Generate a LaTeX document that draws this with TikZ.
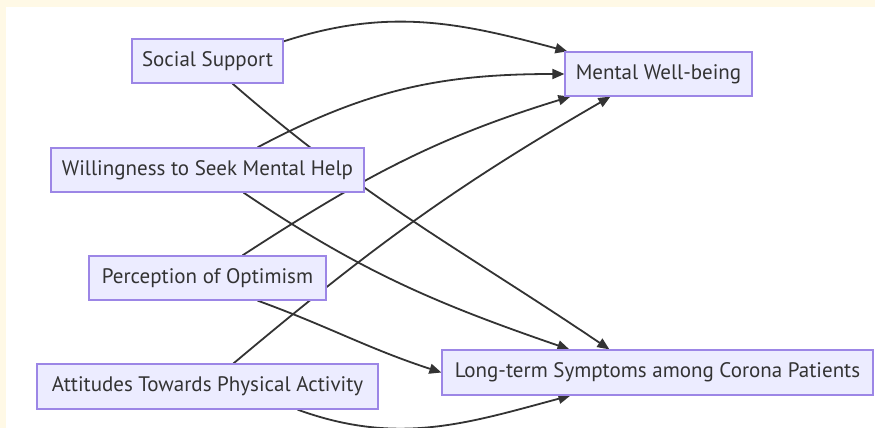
\documentclass[tikz,border=0pt]{standalone}
\usepackage{fontspec}
\setmainfont{PT Sans}
\usetikzlibrary{arrows.meta}
\definecolor{cream}{RGB}{255,249,230}
\definecolor{nodefill}{HTML}{ECECFF}
\definecolor{nodeborder}{HTML}{9C86E6}
\definecolor{edgec}{HTML}{333333}
\definecolor{textc}{HTML}{333333}
\pgfdeclarelayer{bg}
\pgfdeclarelayer{edges}
\pgfsetlayers{bg,edges,main}
\begin{document}
\begin{tikzpicture}[x=1pt,y=-1pt,
  box/.style={draw=nodeborder, fill=nodefill, line width=1.2pt, text=textc,
    font=\fontsize{21}{24}\selectfont, minimum height=44pt, inner sep=0pt},
  link/.style={draw=edgec, line width=1.8pt, -{Triangle[length=12pt,width=10pt]}}]
\useasboundingbox (0,0) rectangle (875,428);
\begin{pgfonlayer}{bg}
  \fill[white] (0,0) rectangle (875,428);
  \fill[cream] (0,0) rectangle (875,7);
  \fill[cream] (0,0) rectangle (6,428);
\end{pgfonlayer}

\node[box, minimum width=151pt] (ss) at (207.5,61) {Social Support};
\node[box, minimum width=313pt] (w) at (207.5,170) {Willingness to Seek Mental Help};
\node[box, minimum width=237pt] (p) at (207.5,278) {Perception of Optimism};
\node[box, minimum width=341pt, minimum height=45pt] (a) at (207.5,386.5) {Attitudes Towards Physical Activity};
\node[box, minimum width=187pt] (mw) at (658.5,74) {Mental Well-being};
\node[box, minimum width=431pt, minimum height=45pt] (lt) at (657.5,372.5) {Long-term Symptoms among Corona Patients};

\begin{pgfonlayer}{edges}
  \draw[link] ([yshift=-3pt]ss.north east) to[out=18,in=165] ([xshift=3pt]mw.north west);
  \draw[link] ([xshift=25pt]ss.south) to[out=-41,in=146] ([xshift=168pt]lt.north west);
  \draw[link] ([xshift=50pt]w.north) to[out=28,in=180] (mw.west);
  \draw[link] ([xshift=36pt]w.south) to[out=-34,in=161] ([xshift=128pt]lt.north west);
  \draw[link] ([xshift=35pt]p.north) to[out=33,in=197] ([xshift=6pt]mw.south west);
  \draw[link] ([xshift=50pt]p.south) to[out=-20,in=162] (lt.west);
  \draw[link] ([xshift=26pt]a.north) to[out=40,in=210] ([xshift=46pt]mw.south west);
  \draw[link] ([xshift=90pt]a.south) to[out=-20,in=195] ([xshift=129pt]lt.south west);
\end{pgfonlayer}
\end{tikzpicture}
\end{document}
